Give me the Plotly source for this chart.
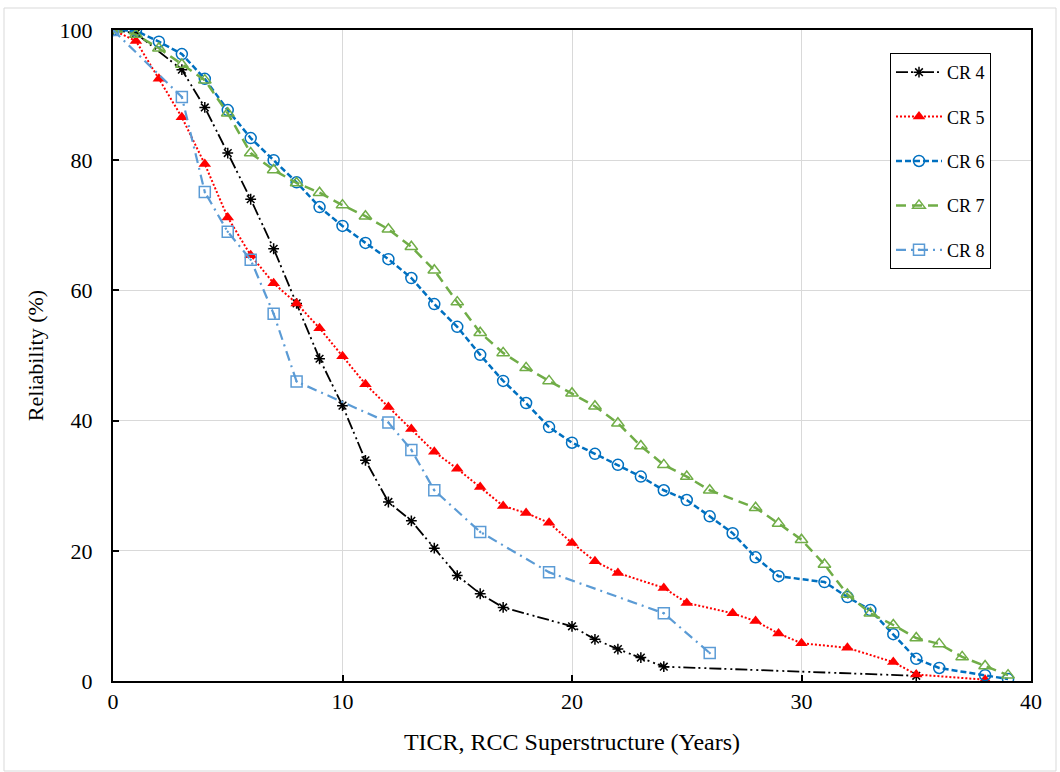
import plotly.graph_objects as go

FONT = "Times New Roman, Liberation Serif, DejaVu Serif, serif"

# ---- data ----
cr4_x = [0, 1, 3, 4, 5, 6, 7, 8, 9, 10, 11, 12, 13, 14, 15, 16, 17, 20, 21, 22, 23, 24, 35]
cr4_y = [100, 99.5, 93.9, 88.1, 81.1, 74.0, 66.4, 58.0, 49.5, 42.3, 33.9, 27.5, 24.6, 20.4, 16.2, 13.4, 11.3,
         8.4, 6.4, 4.9, 3.6, 2.2, 0.8]

cr5_x = [0, 1, 2, 3, 4, 5, 6, 7, 8, 9, 10, 11, 12, 13, 14, 15, 16, 17, 18, 19, 20, 21, 22, 24, 25, 27, 28,
         29, 30, 32, 34, 35, 38]
cr5_y = [100, 98.3, 92.5, 86.6, 79.4, 71.2, 65.4, 61.1, 58.0, 54.2, 49.9, 45.6, 42.1, 38.7, 35.2, 32.6, 29.8,
         26.9, 25.8, 24.3, 21.2, 18.4, 16.6, 14.3, 12.0, 10.4, 9.2, 7.3, 5.8, 5.1, 2.9, 1.0, 0.2]

cr6_x = [0, 1, 2, 3, 4, 5, 6, 7, 8, 9, 10, 11, 12, 13, 14, 15, 16, 17, 18, 19, 20, 21, 22, 23, 24, 25, 26,
         27, 28, 29, 31, 32, 33, 34, 35, 36, 38, 39]
cr6_y = [100, 99.9, 98.2, 96.3, 92.5, 87.7, 83.4, 80.0, 76.6, 72.8, 69.9, 67.3, 64.8, 61.9, 57.9, 54.4, 50.1,
         46.1, 42.7, 39.0, 36.6, 34.9, 33.2, 31.4, 29.3, 27.8, 25.3, 22.7, 19.0, 16.1, 15.2, 12.9, 10.9, 7.2,
         3.4, 2.0, 0.9, 0.3]

cr7_x = [0, 1, 2, 3, 4, 5, 6, 7, 8, 9, 10, 11, 12, 13, 14, 15, 16, 17, 18, 19, 20, 21, 22, 23, 24, 25, 26,
         28, 29, 30, 31, 32, 33, 34, 35, 36, 37, 38, 39]
cr7_y = [100, 99.3, 97.2, 94.7, 92.3, 87.2, 81.1, 78.5, 76.5, 75.0, 73.1, 71.4, 69.4, 66.7, 63.1, 58.2, 53.5,
         50.4, 48.1, 46.1, 44.2, 42.2, 39.6, 36.1, 33.2, 31.4, 29.3, 26.6, 24.2, 21.7, 17.9, 13.3, 10.4, 8.6,
         6.6, 5.7, 3.7, 2.3, 0.9]

cr8_x = [0, 3, 4, 5, 6, 7, 8, 12, 13, 14, 16, 19, 24, 26]
cr8_y = [100, 89.7, 75.1, 69.0, 64.7, 56.4, 46.0, 39.7, 35.5, 29.3, 22.9, 16.7, 10.4, 4.3]

x_ticks = [0, 10, 20, 30, 40]
y_ticks = [0, 20, 40, 60, 80, 100]

series = [
    dict(name="CR 4", x=cr4_x, y=cr4_y, color="#000000", dash="12px,3px,2px,4px,2px,3px", width=1.8,
         symbol="asterisk-open", msize=9, mline=1.5, mcolor="#000000"),
    dict(name="CR 5", x=cr5_x, y=cr5_y, color="#FF0000", dash="2px,2px", width=2,
         symbol="triangle-up", msize=11, mline=0, mcolor="#FF0000"),
    dict(name="CR 6", x=cr6_x, y=cr6_y, color="#0070C0", dash="6px,3px", width=2.5,
         symbol="circle-open", msize=11, mline=1.5, mcolor="#0070C0"),
    dict(name="CR 7", x=cr7_x, y=cr7_y, color="#70AD47", dash="10px,6px", width=2.5,
         symbol="triangle-up-open", msize=11, mline=1.5, mcolor="#70AD47"),
    dict(name="CR 8", x=cr8_x, y=cr8_y, color="#5B9BD5", dash="10px,5px,2px,5px", width=2.2,
         symbol="square-open-dot", msize=11, mline=1.5, mcolor="#5B9BD5"),
]

fig = go.Figure()
for i, s in enumerate(series):
    fig.add_trace(go.Scatter(
        x=s["x"], y=s["y"], name=s["name"], mode="lines+markers",
        legendgroup=f"g{i}",
        line=dict(color=s["color"], dash=s["dash"], width=s["width"]),
        marker=dict(symbol=s["symbol"], size=s["msize"], color=s["mcolor"],
                    line=dict(width=s["mline"], color=s["mcolor"])),
    ))

fig.update_layout(
    width=1060, height=772,
    margin=dict(l=113, r=29, t=30, b=91),
    paper_bgcolor="white", plot_bgcolor="white",
    font=dict(family=FONT, size=22, color="#000000"),
    showlegend=True,
    legend=dict(
        x=0.8464, y=0.9647, xanchor="left", yanchor="top",
        bgcolor="white", bordercolor="#000000", borderwidth=1,
        font=dict(family=FONT, size=18, color="#000000"),
        traceorder="grouped", tracegroupgap=18,
        itemwidth=46,
    ),
    xaxis=dict(
        range=[0, 40], tickvals=x_ticks, ticktext=[str(v) for v in x_ticks],
        showgrid=True, gridcolor="#d9d9d9", gridwidth=1,
        showline=True, linecolor="#000000", linewidth=2, mirror=True,
        ticks="inside", ticklen=6, tickwidth=1.5, tickcolor="#000000",
        zeroline=False,
        tickfont=dict(family=FONT, size=22),
        title=dict(text="TICR, RCC Superstructure (Years)", font=dict(family=FONT, size=24), standoff=20),
    ),
    yaxis=dict(
        range=[0, 100], tickvals=y_ticks, ticktext=[str(v) for v in y_ticks],
        showgrid=True, gridcolor="#d9d9d9", gridwidth=1,
        showline=True, linecolor="#000000", linewidth=2, mirror=True,
        ticks="inside", ticklen=6, tickwidth=1.5, tickcolor="#000000",
        zeroline=False,
        tickfont=dict(family=FONT, size=22),
        ticklabelstandoff=14,
        title=dict(text="Reliability (%)", font=dict(family=FONT, size=22), standoff=10),
    ),
)

# light outer frame of the chart area
fig.add_shape(type="rect", xref="paper", yref="paper",
              x0=(4 - 113) / 918, x1=(1056 - 113) / 918,
              y0=(681 - 771) / 651, y1=(681 - 8) / 651,
              line=dict(color="#d9d9d9", width=1), fillcolor="rgba(0,0,0,0)", layer="below")

fig.write_html("out.html")
